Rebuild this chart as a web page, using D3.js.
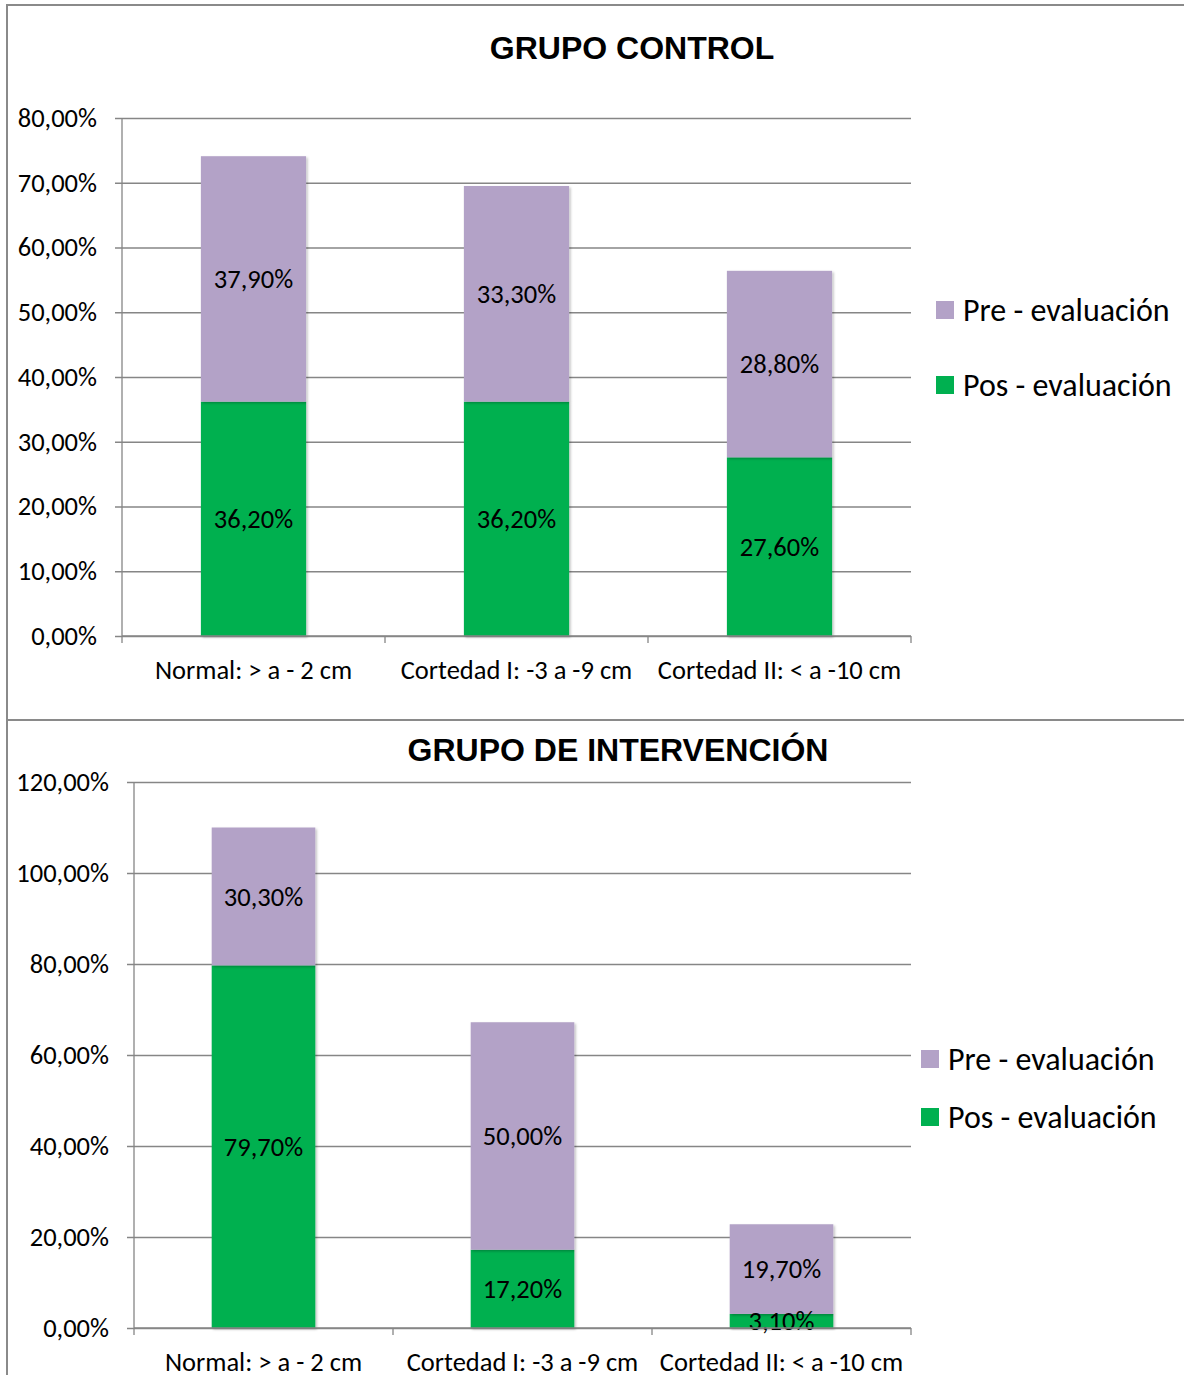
<!DOCTYPE html>
<html>
<head>
<meta charset="utf-8">
<script src="https://cdn.jsdelivr.net/npm/d3@7/dist/d3.min.js"></script>
<style>
  html, body { margin: 0; padding: 0; background: #fff; }
  svg { display: block; }
</style>
</head>
<body>
<svg id="chart" width="1184" height="1375"></svg>
<script>
// Categories and series
const categories = ["Normal: > a - 2 cm", "Cortedad I: -3 a -9 cm", "Cortedad II: < a -10 cm"];
const seriesNames = ["Pre - evaluación", "Pos - evaluación"];

// Grupo control (%)
const controlPos = [36.2, 36.2, 27.6];
const controlPre = [37.9, 33.3, 28.8];
const controlTicks = [0, 10, 20, 30, 40, 50, 60, 70, 80];

// Grupo de intervención (%)
const intervPos = [79.7, 17.2, 3.1];
const intervPre = [30.3, 50.0, 19.7];
const intervTicks = [0, 20, 40, 60, 80, 100, 120];

const colors = { pre: "#B3A2C7", pos: "#00B050" };
const gridColor = "#868686";
const frameColor = "#8a8a8a";
const textFont = "Carlito, Lato, 'Open Sans', sans-serif";
const titleFont = "'Liberation Sans', Arial, sans-serif";
const textSize = 26.5;
const legendSize = 32;

const pct = v => d3.format(".2f")(v).replace(".", ",") + "%";

const svg = d3.select("#chart");

// Soft shadow on bars
const defs = svg.append("defs");
const f = defs.append("filter").attr("id", "shadow").attr("x", "-10%").attr("y", "-10%")
  .attr("width", "130%").attr("height", "130%");
f.append("feDropShadow").attr("dx", 1.5).attr("dy", 1.5).attr("stdDeviation", 1.2)
  .attr("flood-color", "#000").attr("flood-opacity", 0.25);

// Outer frames
svg.append("rect").attr("x", 7).attr("y", 5).attr("width", 1300).attr("height", 715)
  .attr("fill", "none").attr("stroke", frameColor).attr("stroke-width", 2);
svg.append("rect").attr("x", 7).attr("y", 720).attr("width", 1300).attr("height", 700)
  .attr("fill", "none").attr("stroke", frameColor).attr("stroke-width", 2);

function drawChart(cfg) {
  const g = svg.append("g");
  const x = d3.scaleBand().domain(categories).range([cfg.left, cfg.right]).padding(0);
  const y = d3.scaleLinear().domain([0, cfg.max]).range([cfg.bottom, cfg.top]);
  const barW = x.bandwidth() * 0.4;

  // Title
  g.append("text").attr("x", cfg.titleX).attr("y", cfg.titleY)
    .attr("text-anchor", "middle").attr("font-family", titleFont)
    .attr("font-weight", "bold").attr("font-size", 32).attr("fill", "#000")
    .text(cfg.title);

  // Horizontal gridlines with tick marks
  const yAxis = d3.axisLeft(y).tickValues(cfg.ticks).tickFormat(pct)
    .tickSize(-(cfg.right - cfg.left)).tickPadding(18);
  const ya = g.append("g").attr("transform", `translate(${cfg.left},0)`).call(yAxis);
  ya.select(".domain").remove();
  ya.selectAll(".tick line").attr("stroke", gridColor).attr("stroke-width", 1.3)
    .attr("x1", -7);
  ya.selectAll(".tick text").attr("font-family", textFont).attr("font-size", textSize)
    .attr("fill", "#000").attr("x", -25);

  // Vertical axis line
  g.append("line").attr("x1", cfg.left).attr("x2", cfg.left)
    .attr("y1", cfg.top).attr("y2", cfg.bottom)
    .attr("stroke", gridColor).attr("stroke-width", 1.3);

  // Stacked bars
  const stackData = categories.map((c, i) => ({ cat: c, pos: cfg.pos[i], pre: cfg.pre[i] }));
  const stack = d3.stack().keys(["pos", "pre"])(stackData);
  stack.forEach(layer => {
    const key = layer.key;
    g.append("g").selectAll("rect").data(layer).join("rect")
      .attr("x", d => x(d.data.cat) + (x.bandwidth() - barW) / 2)
      .attr("width", barW)
      .attr("y", d => y(d[1]))
      .attr("height", d => y(d[0]) - y(d[1]))
      .attr("fill", colors[key])
      .attr("filter", "url(#shadow)");
  });

  // Value labels centred in each segment
  stack.forEach(layer => {
    g.append("g").selectAll("text").data(layer).join("text")
      .attr("x", d => x(d.data.cat) + x.bandwidth() / 2)
      .attr("y", d => (y(d[0]) + y(d[1])) / 2)
      .attr("dy", "0.35em")
      .attr("text-anchor", "middle")
      .attr("font-family", textFont).attr("font-size", textSize).attr("fill", "#000")
      .text(d => pct(d[1] - d[0]));
  });

  // Category axis
  g.append("line").attr("x1", cfg.left).attr("x2", cfg.right)
    .attr("y1", cfg.bottom).attr("y2", cfg.bottom)
    .attr("stroke", gridColor).attr("stroke-width", 1.3);
  const bounds = categories.map(c => x(c)).concat([cfg.right]);
  g.append("g").selectAll("line").data(bounds).join("line")
    .attr("x1", d => d).attr("x2", d => d)
    .attr("y1", cfg.bottom).attr("y2", cfg.bottom + 7)
    .attr("stroke", gridColor).attr("stroke-width", 1.3);
  g.append("g").selectAll("text").data(categories).join("text")
    .attr("x", d => x(d) + x.bandwidth() / 2)
    .attr("y", cfg.bottom + cfg.catOffset)
    .attr("text-anchor", "middle")
    .attr("font-family", textFont).attr("font-size", textSize).attr("fill", "#000")
    .text(d => d);

  // Legend
  const lg = g.append("g");
  const items = [{ name: seriesNames[0], color: colors.pre }, { name: seriesNames[1], color: colors.pos }];
  items.forEach((it, i) => {
    const yy = cfg.legendY + i * cfg.legendGap;
    lg.append("rect").attr("x", cfg.legendX).attr("y", yy - 9)
      .attr("width", 18).attr("height", 18).attr("fill", it.color);
    lg.append("text").attr("x", cfg.legendX + 27).attr("y", yy).attr("dy", "0.35em")
      .attr("font-family", textFont).attr("font-size", legendSize).attr("fill", "#000")
      .text(it.name);
  });
}

drawChart({
  title: "GRUPO CONTROL", titleX: 632, titleY: 59,
  left: 122, right: 911, top: 118, bottom: 636, max: 80,
  ticks: controlTicks, pos: controlPos, pre: controlPre,
  catOffset: 43, legendX: 936, legendY: 310, legendGap: 75
});

drawChart({
  title: "GRUPO DE INTERVENCIÓN", titleX: 618, titleY: 761,
  left: 134, right: 911, top: 782, bottom: 1328, max: 120,
  ticks: intervTicks, pos: intervPos, pre: intervPre,
  catOffset: 43, legendX: 921, legendY: 1059, legendGap: 58
});
</script>
</body>
</html>
